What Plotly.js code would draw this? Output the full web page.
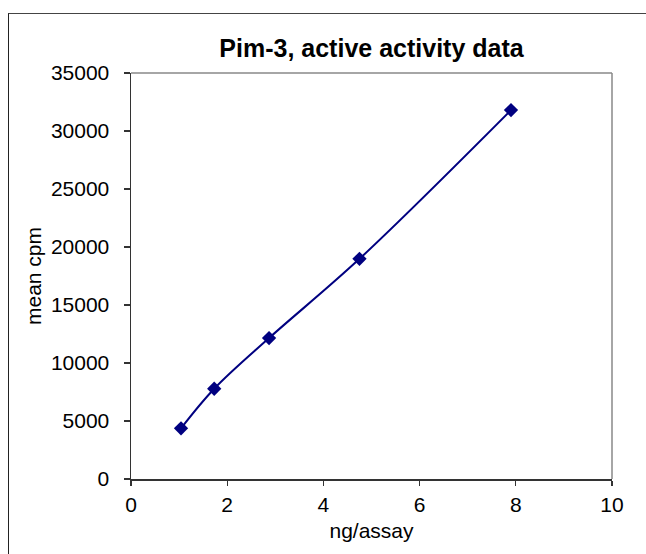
<!DOCTYPE html>
<html>
<head>
<meta charset="utf-8">
<script src="https://cdn.plot.ly/plotly-3.0.1.min.js"></script>
<style>
html,body{margin:0;padding:0;background:#fff;}
#wrap{position:relative;width:646px;height:554px;overflow:hidden;}
#frame{position:absolute;left:8px;top:13px;width:700px;height:600px;border-left:1.5px solid #222;border-top:1.5px solid #444;pointer-events:none;z-index:5;}
#chart{position:absolute;left:0;top:0;width:646px;height:554px;}
</style>
</head>
<body>
<div id="wrap">
<div id="chart"></div>
<div id="frame"></div>
</div>
<script>
const ngPerAssay = [1.04, 1.73, 2.87, 4.75, 7.90];
const meanCpm = [4370, 7780, 12150, 18980, 31800];
const xTicks = [0, 2, 4, 6, 8, 10];
const yTicks = [0, 5000, 10000, 15000, 20000, 25000, 30000, 35000];

const trace = {
  x: ngPerAssay,
  y: meanCpm,
  type: 'scatter',
  mode: 'lines+markers',
  line: {color: '#000080', width: 2, shape: 'spline', smoothing: 1},
  marker: {symbol: 'diamond', size: 11, color: '#000080'},
  hoverinfo: 'skip'
};

const layout = {
  width: 646, height: 554,
  margin: {l: 131, r: 34, t: 73, b: 75},
  paper_bgcolor: '#fff', plot_bgcolor: '#fff',
  showlegend: false,
  font: {family: 'Liberation Sans, Arial, sans-serif', color: '#000', size: 21},
  title: {text: '<b>Pim-3, active activity data</b>', font: {size: 25, family: 'Liberation Sans, Arial, sans-serif'}, x: 0.5, xref: 'paper', xanchor: 'center', y: 1 - 48/554, yref: 'container', yanchor: 'middle'},
  xaxis: {
    range: [0, 10], tickvals: xTicks, ticktext: xTicks.map(String),
    showgrid: false, zeroline: false, showline: true, linecolor: '#333', linewidth: 1.5,
    ticks: 'outside', ticklen: 5, tickcolor: '#333', tickwidth: 1.2,
    ticklabelstandoff: 1,
    tickfont: {size: 21},
    title: {text: 'ng/assay', font: {size: 21}, standoff: 8}
  },
  yaxis: {
    range: [0, 35000], tickvals: yTicks, ticktext: yTicks.map(String),
    showgrid: false, zeroline: false, showline: true, linecolor: '#333', linewidth: 1.5,
    ticks: 'outside', ticklen: 6, tickcolor: '#333', tickwidth: 1.2,
    ticklabelstandoff: 10,
    tickfont: {size: 21},
    title: {text: 'mean cpm', font: {size: 21}, standoff: 3}
  },
  shapes: [
    {type: 'line', xref: 'paper', yref: 'paper', x0: 0, x1: 1, y0: 1, y1: 1, line: {color: '#888', width: 1.5}},
    {type: 'line', xref: 'paper', yref: 'paper', x0: 1, x1: 1, y0: 0, y1: 1, line: {color: '#888', width: 1.5}}
  ]
};

Plotly.newPlot('chart', [trace], layout, {displayModeBar: false, staticPlot: true});
</script>
</body>
</html>
